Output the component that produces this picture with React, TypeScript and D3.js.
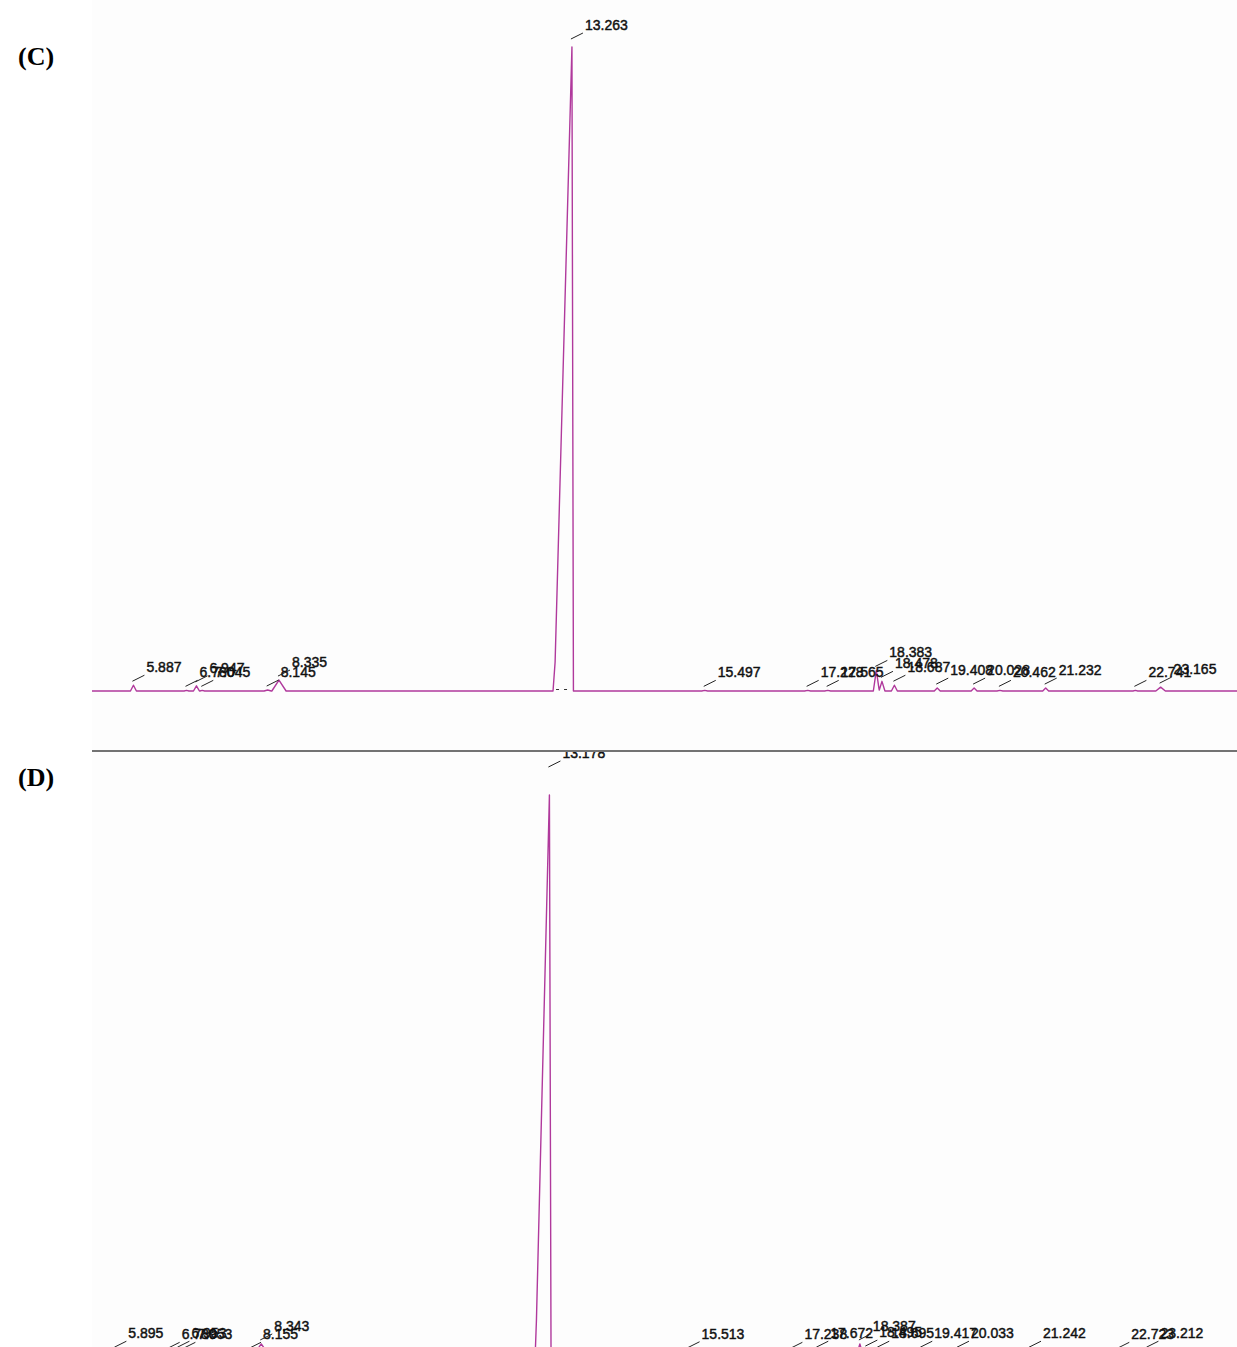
import React from 'react';
import * as d3 from 'd3';

const W = 1237;
const H = 1347;

// ---------- Panel C data (retention time in min, abundance: main = 1000) ----------
const rtC = [5.887, 6.78, 6.947, 7.045, 8.145, 8.335, 13.263, 15.497, 17.228, 17.565, 18.383, 18.478, 18.687, 19.408, 20.028, 20.462, 21.232, 22.741, 23.165];
const heightC = [9, 1, 8, 1, 1.5, 17, 1000, 1, 1, 1, 32, 15, 9, 4.5, 4.5, 1, 4.5, 1, 6];
const halfWidthC = [0.05, 0.04, 0.05, 0.04, 0.06, 0.12, 0, 0.05, 0.05, 0.05, 0.05, 0.05, 0.05, 0.05, 0.05, 0.05, 0.05, 0.04, 0.08];
const mainProfileTimeC = [12.945, 12.98, 13.263, 13.288];
const mainProfileHeightC = [0, 45, 1000, 0];

// ---------- Panel D data ----------
const rtD = [5.895, 6.789, 6.953, 7.053, 8.155, 8.343, 13.178, 15.513, 17.238, 17.672, 18.387, 18.495, 18.695, 19.417, 20.033, 21.242, 22.723, 23.212];
const heightD = [5, 3, 5, 3, 3, 18, 1000, 4, 3, 5, 18, 7, 5, 5, 5, 5, 3, 5];
const halfWidthD = [0.05, 0.04, 0.05, 0.04, 0.06, 0.12, 0, 0.05, 0.05, 0.05, 0.05, 0.05, 0.05, 0.05, 0.05, 0.05, 0.04, 0.08];
const mainProfileTimeD = [12.94, 12.96, 13.178, 13.205];
const mainProfileHeightD = [0, 60, 1000, 0];

const panelLetters = ['(C)', '(D)'];

type Profile = { t: number[]; h: number[] };

function interp(p: Profile, t: number): number {
  const n = p.t.length;
  if (t <= p.t[0] || t >= p.t[n - 1]) return 0;
  for (let i = 0; i < n - 1; i++) {
    if (t >= p.t[i] && t <= p.t[i + 1]) {
      const f = (t - p.t[i]) / (p.t[i + 1] - p.t[i]);
      return p.h[i] + f * (p.h[i + 1] - p.h[i]);
    }
  }
  return 0;
}

function buildProfiles(rt: number[], hts: number[], hw: number[], mainT: number[], mainH: number[]): Profile[] {
  return rt.map((r, i) => {
    if (hts[i] >= 1000) return { t: mainT, h: mainH };
    return { t: [r - hw[i], r, r + hw[i]], h: [0, hts[i], 0] };
  });
}

function buildTrace(domain: [number, number], profiles: Profile[]): [number, number][] {
  const ts = new Set<number>([domain[0], domain[1]]);
  profiles.forEach((p) => p.t.forEach((t) => ts.add(t)));
  const sorted = Array.from(ts).filter((t) => t >= domain[0] && t <= domain[1]).sort((a, b) => a - b);
  return sorted.map((t) => [t, d3.sum(profiles, (p) => interp(p, t))]);
}

const fmt = d3.format('.3f');

type PanelCfg = {
  rt: number[];
  hts: number[];
  hw: number[];
  mainT: number[];
  mainH: number[];
  xDomain: [number, number];
  yRange: [number, number];
  clipTop: number;
  clipBottom: number;
  mainLabelY: number;
  id: string;
};

const LEFT = 92;
const TRACE = '#b0399c';

function Panel({ cfg }: { cfg: PanelCfg }) {
  const x = d3.scaleLinear().domain(cfg.xDomain).range([LEFT, W]);
  const y = d3.scaleLinear().domain([0, 1000]).range(cfg.yRange);
  const profiles = buildProfiles(cfg.rt, cfg.hts, cfg.hw, cfg.mainT, cfg.mainH);
  const trace = buildTrace(cfg.xDomain, profiles);
  const line = d3
    .line<[number, number]>()
    .x((d) => x(d[0]))
    .y((d) => y(d[1]));
  const gap = 13;
  return (
    <g>
      <defs>
        <clipPath id={cfg.id}>
          <rect x={LEFT} y={cfg.clipTop} width={W - LEFT} height={cfg.clipBottom - cfg.clipTop} />
        </clipPath>
      </defs>
      <g clipPath={`url(#${cfg.id})`}>
        <path d={line(trace) || ''} fill="none" stroke={TRACE} strokeWidth={1.4} strokeLinejoin="round" />
        <line
          x1={x(cfg.mainT[0]) + 3}
          x2={x(cfg.mainT[cfg.mainT.length - 1]) - 2}
          y1={y(0) - 1.5}
          y2={y(0) - 1.5}
          stroke="#333"
          strokeWidth={1}
          strokeDasharray="3 5"
        />
        {cfg.rt.map((r, i) => {
          const px = x(r);
          const apex = y(d3.sum(profiles, (p) => interp(p, r)));
          const tb = cfg.hts[i] >= 1000 ? cfg.mainLabelY : apex - gap;
          return (
            <g key={i}>
              <line x1={px - 1} y1={tb + 9} x2={px + 11} y2={tb + 3} stroke="#222" strokeWidth={1} />
              <text
                x={px + 13}
                y={tb}
                fontFamily="'Liberation Sans', Arial, sans-serif"
                fontSize={14}
                fill="#111"
                stroke="#111"
                strokeWidth={0.45}
              >
                {fmt(r)}
              </text>
            </g>
          );
        })}
      </g>
    </g>
  );
}

const panelC: PanelCfg = {
  rt: rtC,
  hts: heightC,
  hw: halfWidthC,
  mainT: mainProfileTimeC,
  mainH: mainProfileHeightC,
  xDomain: [5.19, 24.45],
  yRange: [691, 47],
  clipTop: 0,
  clipBottom: 750,
  mainLabelY: 30,
  id: 'clipC',
};

const panelD: PanelCfg = {
  rt: rtD,
  hts: heightD,
  hw: halfWidthD,
  mainT: mainProfileTimeD,
  mainH: mainProfileHeightD,
  xDomain: [5.503, 24.715],
  yRange: [1354, 795],
  clipTop: 752,
  clipBottom: H,
  mainLabelY: 758,
  id: 'clipD',
};

export default function App() {
  return (
    <svg
      width={W}
      height={H}
      viewBox={`0 0 ${W} ${H}`}
      style={{ position: 'absolute', left: 0, top: 0, background: '#fff' }}
    >
      <rect x={0} y={0} width={W} height={H} fill="#fff" />
      <rect x={LEFT} y={0} width={W - LEFT} height={H} fill="#fdfdfd" />
      <Panel cfg={panelC} />
      <Panel cfg={panelD} />
      <line x1={LEFT} x2={W} y1={751} y2={751} stroke="#444" strokeWidth={1.5} />
      <text x={18} y={65} fontFamily="'Liberation Serif', 'Times New Roman', serif" fontWeight="bold" fontSize={26} fill="#000">
        {panelLetters[0]}
      </text>
      <text x={18} y={786} fontFamily="'Liberation Serif', 'Times New Roman', serif" fontWeight="bold" fontSize={26} fill="#000">
        {panelLetters[1]}
      </text>
    </svg>
  );
}
